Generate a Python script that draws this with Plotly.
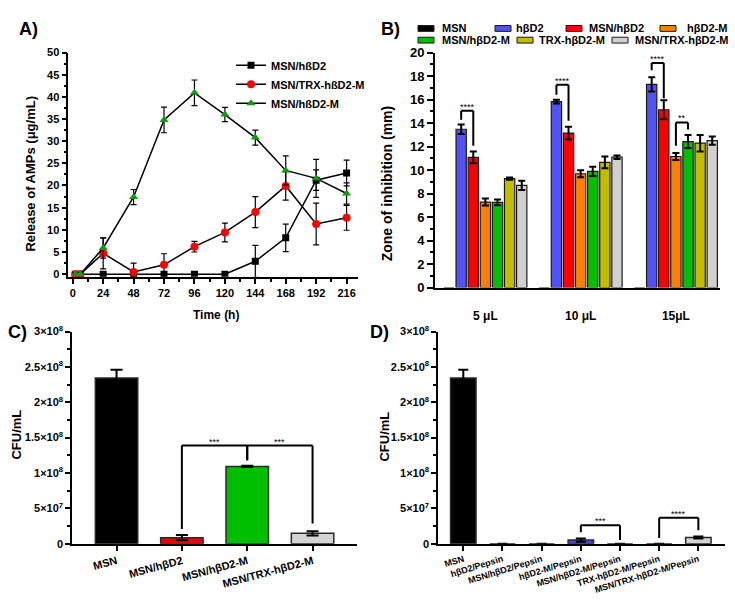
import plotly.graph_objects as go

W, H = 735, 613
def px(x): return x / W
def py(y): return 1 - y / H

# ---------------- Panel A data ----------------
time_h = [2, 6, 24, 48, 72, 96, 120, 144, 168, 192, 216]
a_msn_hbd2 = [0, 0, 0, 0, 0, 0, 0, 2.9, 8.2, 21.2, 22.8]
a_msn_hbd2_err = [0.3, 0.3, 0, 0, 0, 0, 0, 3.6, 3.1, 2.3, 2.9]
a_msn_trx = [0, 0, 4.7, 0.5, 2.1, 6.2, 9.4, 14.0, 19.9, 11.3, 12.7]
a_msn_trx_err = [0.3, 0.3, 3.5, 2.0, 2.5, 1.2, 2.1, 3.5, 3.2, 4.7, 2.8]
a_msn_hbd2m = [0, 0, 5.9, 17.4, 34.8, 40.9, 36.0, 30.8, 23.4, 21.6, 18.2]
a_msn_hbd2m_err = [0.3, 0.3, 2.3, 1.7, 2.9, 2.9, 1.6, 1.7, 3.3, 4.3, 2.4]
a_x_ticks = [0, 24, 48, 72, 96, 120, 144, 168, 192, 216]

# ---------------- Panel B data ----------------
b_groups = ["5 \u03bcL", "10 \u03bcL", "15\u03bcL"]
b_series = ["MSN", "h\u03b2D2", "MSN/h\u03b2D2", "h\u03b2D2-M", "MSN/h\u03b2D2-M", "TRX-h\u03b2D2-M", "MSN/TRX-h\u03b2D2-M"]
b_colors = ["#000000", "#5252f2", "#ff0000", "#ff8000", "#00bf00", "#c4bc00", "#d0d0d0"]
b_msn = [0, 0, 0]
b_msn_err = [0, 0, 0]
b_hbd2 = [13.47, 15.82, 17.29]
b_hbd2_err = [0.4, 0.15, 0.6]
b_msn_hbd2 = [11.07, 13.14, 15.13]
b_msn_hbd2_err = [0.5, 0.55, 0.8]
b_hbd2m = [7.27, 9.68, 11.15]
b_hbd2m_err = [0.3, 0.3, 0.3]
b_msn_hbd2m = [7.25, 9.88, 12.42]
b_msn_hbd2m_err = [0.25, 0.4, 0.55]
b_trx_hbd2m = [9.27, 10.65, 12.28]
b_trx_hbd2m_err = [0.1, 0.5, 0.7]
b_msn_trx_hbd2m = [8.69, 11.09, 12.5]
b_msn_trx_hbd2m_err = [0.4, 0.15, 0.35]
b_values = [b_msn, b_hbd2, b_msn_hbd2, b_hbd2m, b_msn_hbd2m, b_trx_hbd2m, b_msn_trx_hbd2m]
b_errors = [b_msn_err, b_hbd2_err, b_msn_hbd2_err, b_hbd2m_err, b_msn_hbd2m_err, b_trx_hbd2m_err, b_msn_trx_hbd2m_err]
# significance brackets: (group, series_left, series_right, top, left_bottom, right_bottom, label)
b_brackets = [
    (0, 1, 2, 15.05, 14.27, 12.06, "****"),
    (1, 1, 2, 17.26, 16.4, 14.19, "****"),
    (2, 1, 2, 19.1, 18.5, 16.1, "****"),
    (2, 3, 4, 14.05, 12.06, 13.44, "**"),
]

# ---------------- Panel C data ----------------
c_labels = ["MSN", "MSN/h\u03b2D2", "MSN/h\u03b2D2-M", "MSN/TRX-h\u03b2D2-M"]
c_values = [2.345e8, 0.85e7, 1.093e8, 1.47e7]
c_errors = [1.15e7, 0.38e7, 0.1e7, 0.3e7]
c_colors = ["#000000", "#ee0000", "#00bf00", "#d3d3d3"]
c_brackets = [
    (1, 2, 1.387e8, 2.07e7, 1.18e8, "***"),
    (2, 3, 1.387e8, 1.18e8, 2.85e7, "***"),
]

# ---------------- Panel D data ----------------
d_labels = ["MSN", "h\u03b2D2/Pepsin", "MSN/h\u03b2D2/Pepsin", "h\u03b2D2-M/Pepsin",
            "MSN/h\u03b2D2-M/Pepsin", "TRX-h\u03b2D2-M/Pepsin", "MSN/TRX-h\u03b2D2-M/Pepsin"]
d_values = [2.345e8, 0, 0, 0.5e7, 0, 0, 0.87e7]
d_errors = [1.15e7, 0, 0, 0.22e7, 0, 0, 0.15e7]
d_colors = ["#000000", "#000000", "#000000", "#4646e6", "#000000", "#000000", "#d3d3d3"]
d_brackets = [
    (3, 4, 2.62e7, 1.61e7, 0.5e7, "***"),
    (5, 6, 3.68e7, 0.8e7, 1.9e7, "****"),
]

cfu_tickvals = [0, 5e7, 1e8, 1.5e8, 2e8, 2.5e8, 3e8]
cfu_ticktext = ["0", "5\u00d710<sup>7</sup>", "1\u00d710<sup>8</sup>", "1.5\u00d710<sup>8</sup>",
                "2\u00d710<sup>8</sup>", "2.5\u00d710<sup>8</sup>", "3\u00d710<sup>8</sup>"]

FONT = "Arial"
fig = go.Figure()

# ---- Panel A traces ----
a_specs = [
    ("MSN/h\u00dfD2", a_msn_hbd2, a_msn_hbd2_err, "square", "#000000", 7),
    ("MSN/TRX-h\u00dfD2-M", a_msn_trx, a_msn_trx_err, "circle", "#ff0000", 8),
    ("MSN/h\u00dfD2-M", a_msn_hbd2m, a_msn_hbd2m_err, "triangle-up", "#119a11", 8),
]
for name, ys, es, sym, col, sz in a_specs:
    fig.add_trace(go.Scatter(
        x=time_h, y=ys, name=name, mode="lines+markers",
        line=dict(color="black", width=1.5),
        marker=dict(symbol=sym, color=col, size=sz, line=dict(width=0)),
        error_y=dict(type="data", array=es, color="black", thickness=1.2, width=3),
        xaxis="x", yaxis="y", legend="legend"))

# ---- Panel B traces ----
n_b = len(b_series)
b_bargap = 0.11
b_x = list(range(len(b_groups)))
for name, vals, errs, col in zip(b_series, b_values, b_errors, b_colors):
    fig.add_trace(go.Bar(
        x=b_x, y=vals, name=name, marker=dict(color=col, line=dict(color="#1a1a1a", width=1.2)),
        error_y=dict(type="data", array=errs, color="black", thickness=2, width=3.5,
                     visible=any(e > 0 for e in errs)),
        xaxis="x2", yaxis="y2", showlegend=False))

# ---- Panel C ----
c_x = list(range(len(c_labels)))
fig.add_trace(go.Bar(
    x=c_x, y=c_values, width=0.65,
    marker=dict(color=c_colors, line=dict(color="#2a2a2a", width=1.5)),
    error_y=dict(type="data", array=c_errors, color="black", thickness=2, width=6),
    xaxis="x3", yaxis="y3", showlegend=False))

# ---- Panel D ----
d_x = list(range(len(d_labels)))
fig.add_trace(go.Bar(
    x=d_x, y=d_values, width=0.65,
    marker=dict(color=d_colors, line=dict(color="#2a2a2a", width=1.5)),
    error_y=dict(type="data", array=d_errors, color="black", thickness=2, width=5),
    xaxis="x4", yaxis="y4", showlegend=False))

shapes = []
annotations = []

def bracket(xl, xr, top, lb, rb, label, xref, yref, fsize=9, lw=2):
    shapes.append(dict(type="line", x0=xl, x1=xr, y0=top, y1=top, xref=xref, yref=yref,
                       line=dict(color="black", width=lw)))
    shapes.append(dict(type="line", x0=xl, x1=xl, y0=top, y1=lb, xref=xref, yref=yref,
                       line=dict(color="black", width=lw)))
    shapes.append(dict(type="line", x0=xr, x1=xr, y0=top, y1=rb, xref=xref, yref=yref,
                       line=dict(color="black", width=lw)))
    annotations.append(dict(x=(xl + xr) / 2, y=top, xref=xref, yref=yref, text=label,
                            showarrow=False, xanchor="center", yanchor="bottom", yshift=-3,
                            font=dict(family=FONT, size=fsize, color="black")))

slot = (1 - b_bargap) / n_b
for g, sl, sr, top, lb, rb, lab in b_brackets:
    xl = g + (sl - (n_b - 1) / 2) * slot
    xr = g + (sr - (n_b - 1) / 2) * slot
    bracket(xl, xr, top, lb, rb, lab, "x2", "y2")
for cl, cr, top, lb, rb, lab in c_brackets:
    bracket(cl, cr, top, lb, rb, lab, "x3", "y3")
for cl, cr, top, lb, rb, lab in d_brackets:
    bracket(cl, cr, top, lb, rb, lab, "x4", "y4")

# ---- Panel B manual legend ----
leg_items = [
    (0, 418, 440, 21), (1, 495, 514, 21), (2, 566, 587, 21), (3, 660, 685, 21),
    (4, 418, 440, 33), (5, 517, 537, 33), (6, 612, 633, 33),
]
for idx, sx, tx, yc in leg_items:
    shapes.append(dict(type="rect", xref="paper", yref="paper",
                       x0=px(sx), x1=px(sx + 16), y0=py(yc + 3), y1=py(yc - 3),
                       fillcolor=b_colors[idx], line=dict(color="#1a1a1a", width=1)))
    annotations.append(dict(x=px(tx), y=py(yc), xref="paper", yref="paper", text=b_series[idx],
                            showarrow=False, xanchor="left", yanchor="middle",
                            font=dict(family=FONT, size=11, color="black", weight="bold")))

# ---- Panel labels and axis titles ----
for txt, x, y in [("A)", 28, 22), ("B)", 390, 22), ("C)", 17, 333), ("D)", 379, 333)]:
    annotations.append(dict(x=px(x), y=py(y), xref="paper", yref="paper", text=txt, showarrow=False,
                            xanchor="center", yanchor="middle",
                            font=dict(family=FONT, size=18, color="black", weight="bold")))
axis_titles = [
    ("Release of AMPs (\u03bcg/mL)", 31, 170, -90, 13),
    ("Time (h)", 216, 315, 0, 12),
    ("Zone of inhibition (mm)", 387, 180, -90, 14),
    ("CFU/mL", 17, 438, -90, 13),
    ("CFU/mL", 385, 440, -90, 13),
]
for txt, x, y, ang, fs in axis_titles:
    annotations.append(dict(x=px(x), y=py(y), xref="paper", yref="paper", text=txt, showarrow=False,
                            textangle=ang, xanchor="center", yanchor="middle",
                            font=dict(family=FONT, size=fs, color="black", weight="bold")))

axis_common = dict(showgrid=False, zeroline=False, showline=True, linecolor="black",
                   tickcolor="black")

fig.update_layout(
    width=W, height=H, margin=dict(l=0, r=0, t=0, b=0),
    paper_bgcolor="white", plot_bgcolor="white",
    barmode="group", bargap=b_bargap, bargroupgap=0.15,
    font=dict(family=FONT, color="black"),
    xaxis=dict(domain=[px(68.3), px(358)], anchor="y", range=[-3.5, 225], ticks="outside",
               tickvals=a_x_ticks, ticklen=5, tickwidth=1.5, linewidth=1.5,
               minor=dict(dtick=12, tick0=0, ticks="outside", ticklen=3, tickcolor="black"),
               tickfont=dict(size=11, weight="bold"), **axis_common),
    yaxis=dict(domain=[py(276), py(45.7)], anchor="x", range=[-0.6, 50], dtick=5, tick0=0,
               ticks="outside", ticklen=5, tickwidth=1.5, linewidth=1.5,
               minor=dict(dtick=2.5, tick0=0, ticks="outside", ticklen=3, tickcolor="black"),
               tickfont=dict(size=11, weight="bold"), **axis_common),
    xaxis2=dict(domain=[px(435), px(720)], anchor="y2", range=[-0.529, 2.463],
                tickvals=b_x, ticktext=b_groups, ticks="", linewidth=2, ticklabelstandoff=16,
                tickfont=dict(size=12, weight="bold"), **axis_common),
    yaxis2=dict(domain=[py(287), py(45.7)], anchor="x2", range=[0, 20], dtick=2, tick0=0,
                ticks="outside", ticklen=6, tickwidth=2, linewidth=2,
                minor=dict(dtick=1, tick0=0, ticks="outside", ticklen=3, tickcolor="black", tickwidth=1.5),
                tickfont=dict(size=13, weight="bold"), **axis_common),
    xaxis3=dict(domain=[px(72.3), px(357)], anchor="y3", range=[-0.677, 3.68], ticks="outside",
                tickvals=c_x, ticktext=c_labels, tickangle=-15, ticklen=5, tickwidth=1.5, linewidth=2,
                tickfont=dict(size=11, weight="bold"), **axis_common),
    yaxis3=dict(domain=[py(550), py(332.3)], anchor="x3", range=[0, 3e8], ticks="outside",
                tickvals=cfu_tickvals, ticktext=cfu_ticktext, ticklen=5, tickwidth=1.5, linewidth=2,
                minor=dict(dtick=2.5e7, tick0=0, ticks="outside", ticklen=3, tickcolor="black"),
                tickfont=dict(size=11, weight="bold"), **axis_common),
    xaxis4=dict(domain=[px(438.3), px(725)], anchor="y4", range=[-0.638, 6.68], ticks="outside",
                tickvals=d_x, ticktext=d_labels, tickangle=-17, ticklen=5, tickwidth=1.5, linewidth=2,
                tickfont=dict(size=9, weight="bold"), **axis_common),
    yaxis4=dict(domain=[py(550), py(332.3)], anchor="x4", range=[0, 3e8], ticks="outside",
                tickvals=cfu_tickvals, ticktext=cfu_ticktext, ticklen=5, tickwidth=1.5, linewidth=2,
                minor=dict(dtick=2.5e7, tick0=0, ticks="outside", ticklen=3, tickcolor="black"),
                tickfont=dict(size=11, weight="bold"), **axis_common),
    legend=dict(x=px(231), y=py(44), xanchor="left", yanchor="top", bgcolor="rgba(0,0,0,0)",
                font=dict(size=11, weight="bold"), tracegroupgap=0, itemwidth=30),
    shapes=shapes, annotations=annotations,
)

fig.write_html("out.html", config={"displayModeBar": False},
               post_script="document.body.style.margin='0';document.body.style.overflow='hidden';")
